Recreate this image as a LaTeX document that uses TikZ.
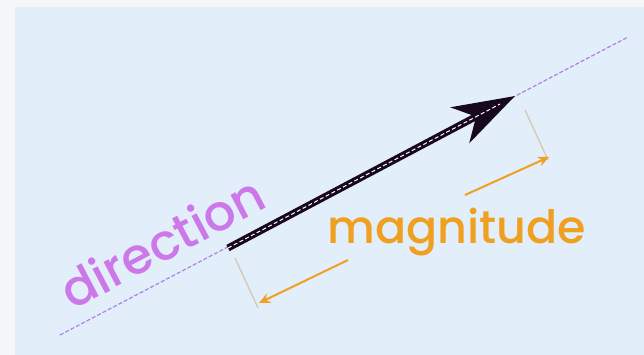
\documentclass[tikz,border=0pt]{standalone}
\usepackage{fontspec}
\IfFontExistsTF{Poppins Medium}{\setmainfont{Poppins Medium}}{\setmainfont{Poppins}}
\usetikzlibrary{arrows.meta}
\definecolor{bgblue}{RGB}{227,238,251}
\definecolor{edge}{RGB}{244,246,248}
\definecolor{violettext}{RGB}{204,120,232}
\definecolor{violetline}{RGB}{176,128,224}
\definecolor{orangec}{RGB}{240,160,32}
\definecolor{tickc}{RGB}{214,200,172}
\definecolor{shaft}{RGB}{24,8,28}
\tikzset{
  lbl/.style={inner sep=0pt, font=\fontsize{46}{48}\selectfont},
  dirlbl/.style={inner sep=0pt, font=\fontsize{50}{52}\selectfont},
  dirline/.style={violetline, line width=1.2pt, dash pattern=on 4pt off 2pt},
  vecarrow/.style={shaft, line width=7pt, -{Stealth[length=62pt, width=40pt, inset=18pt]}},
  centredash/.style={white, line width=1pt, dash pattern=on 4pt off 2.5pt},
  tickline/.style={tickc, line width=1.3pt},
  magarrow/.style={orangec, line width=2pt, -{Stealth[length=11pt, width=10pt]}}
}
\begin{document}
\begin{tikzpicture}[x=1pt, y=-1pt]
\useasboundingbox (0,0) rectangle (644,355);
\fill[edge] (0,0) rectangle (644,355);
\fill[bgblue] (15,7) rectangle (644,355);
% direction line
\coordinate (dA) at (60,335);
\coordinate (dB) at (628,37);
\draw[dirline] (dA) -- (dB);
% vector
\coordinate (vS) at (228,248);
\coordinate (vT) at (515,96);
\coordinate (vM) at (500,104);
\draw[vecarrow] (vS) -- (vT);
\draw[centredash] (vS) -- (vM);
% ticks
\coordinate (t1a) at (235,258);
\coordinate (t1b) at (258,308);
\coordinate (t2a) at (525,110);
\coordinate (t2b) at (548,160);
\draw[tickline] (t1a) -- (t1b);
\draw[tickline] (t2a) -- (t2b);
% magnitude arrows
\coordinate (m1s) at (348,260);
\coordinate (m1e) at (259,303);
\coordinate (m2s) at (465,195);
\coordinate (m2e) at (549,157);
\draw[magarrow] (m1s) -- (m1e);
\draw[magarrow] (m2s) -- (m2e);
% labels
\node[dirlbl, text=violettext, anchor=base west, rotate=27.8] (dir) at (72,311) {direction};
\node[lbl, text=orangec, anchor=base west] (mag) at (327,243) {magnitude};
\end{tikzpicture}
\end{document}
